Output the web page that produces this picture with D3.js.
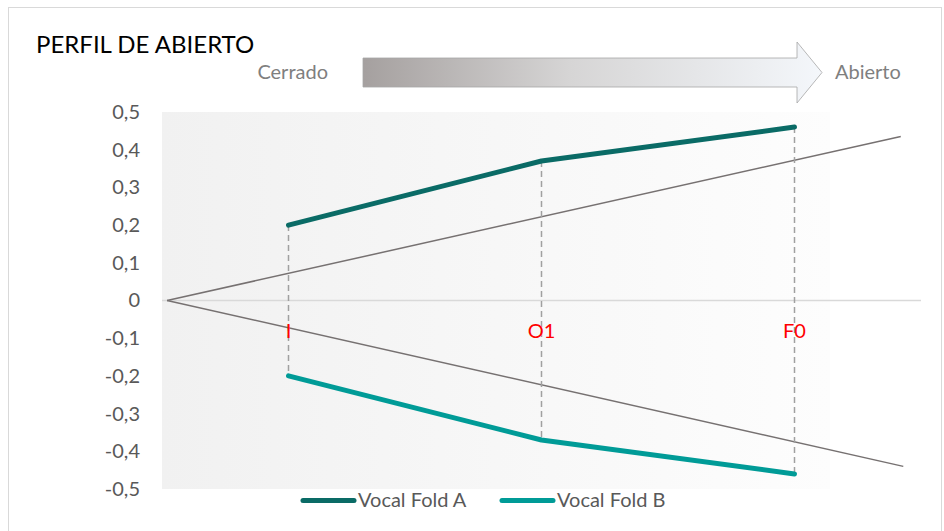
<!DOCTYPE html>
<html><head><meta charset="utf-8">
<script src="https://cdn.jsdelivr.net/npm/d3@7"></script>
<style>body{margin:0;background:#fff}svg{display:block}text{font-family:Lato,"Open Sans",sans-serif}</style>
</head><body><svg id="c" width="944" height="531"></svg>
<script>
const categories = ["I", "O1", "F0"];
const foldA = [0.2, 0.37, 0.46];
const foldB = [-0.2, -0.37, -0.46];
const yTicks = [0.5, 0.4, 0.3, 0.2, 0.1, 0, -0.1, -0.2, -0.3, -0.4, -0.5];
const refUpper = [[0.52, 0], [3.42, 0.435]];
const refLower = [[0.52, 0], [3.43, -0.44]];
const seriesNames = ["Vocal Fold A", "Vocal Fold B"];
const seriesColors = ["#0a6b66", "#009b97"];

const svg = d3.select("#c");
const x = d3.scaleLinear().domain([0.5, 3.5]).range([162, 921]);
const y = d3.scaleLinear().domain([-0.5, 0.5]).range([489, 112]);
const defs = svg.append("defs");

// outer frame
svg.append("rect").attr("x", 8.5).attr("y", 7.5).attr("width", 933).attr("height", 540)
  .attr("fill", "none").attr("stroke", "#d9d9d9").attr("stroke-width", 1);

// title
svg.append("text").attr("x", 36).attr("y", 53).attr("font-size", 24).attr("fill", "#000")
  .text("PERFIL DE ABIERTO");

// arrow
const ag = defs.append("linearGradient").attr("id", "ag").attr("x1", "0").attr("x2", "1");
ag.append("stop").attr("offset", "0").attr("stop-color", "#a5a09f");
ag.append("stop").attr("offset", "0.45").attr("stop-color", "#d6d5d5");
ag.append("stop").attr("offset", "1").attr("stop-color", "#f4f7fb");
svg.append("path")
  .attr("d", "M363,58 L797,58 L797,42 L822,72.5 L797,103 L797,87 L363,87 Z")
  .attr("fill", "url(#ag)").attr("stroke", "#a6a6a6").attr("stroke-width", 0.8);
svg.append("text").attr("x", 328).attr("y", 79).attr("text-anchor", "end")
  .attr("font-size", 20).attr("fill", "#7f7f7f").text("Cerrado");
svg.append("text").attr("x", 835).attr("y", 79)
  .attr("font-size", 20).attr("fill", "#7f7f7f").text("Abierto");

// plot background
const bg = defs.append("linearGradient").attr("id", "bg").attr("x1", "0").attr("x2", "1");
bg.append("stop").attr("offset", "0").attr("stop-color", "#f1f1f1");
bg.append("stop").attr("offset", "1").attr("stop-color", "#fdfdfd");
svg.append("rect").attr("x", x(0.5)).attr("y", y(0.5)).attr("width", 830 - x(0.5))
  .attr("height", y(-0.5) - y(0.5)).attr("fill", "url(#bg)");

// y axis labels
const yAxis = d3.axisLeft(y).tickValues(yTicks).tickSize(0).tickPadding(0)
  .tickFormat(d => d === 0 ? "0" : d3.format(".1f")(d).replace(".", ",").replace("−", "-"));
const ya = svg.append("g").attr("transform", "translate(140,0)").call(yAxis);
ya.select(".domain").remove();
ya.selectAll("text").attr("font-size", 20).attr("fill", "#595959")
  .attr("font-family", "Lato, sans-serif");

// zero line
svg.append("line").attr("x1", x(0.5)).attr("x2", x(3.5)).attr("y1", y(0)).attr("y2", y(0))
  .attr("stroke", "#d9d9d9").attr("stroke-width", 1.5);

// reference lines
const line = d3.line().x(d => x(d[0])).y(d => y(d[1]));
[refUpper, refLower].forEach(r => {
  svg.append("path").attr("d", line(r)).attr("fill", "none")
    .attr("stroke", "#767171").attr("stroke-width", 1.5);
});

// dashed droplines
categories.forEach((c, i) => {
  svg.append("line").attr("x1", x(i + 1)).attr("x2", x(i + 1))
    .attr("y1", y(foldA[i])).attr("y2", y(foldB[i]))
    .attr("stroke", "#a0a0a0").attr("stroke-width", 1.5).attr("stroke-dasharray", "6,4");
});

// category labels
categories.forEach((c, i) => {
  svg.append("text").attr("x", x(i + 1)).attr("y", 338).attr("text-anchor", "middle")
    .attr("font-size", 20).attr("fill", "#ff0000").text(c);
});

// series
const sl = d3.line().x((d, i) => x(i + 1)).y(d => y(d));
[foldA, foldB].forEach((s, k) => {
  svg.append("path").attr("d", sl(s)).attr("fill", "none").attr("stroke", seriesColors[k])
    .attr("stroke-width", 5).attr("stroke-linecap", "round").attr("stroke-linejoin", "round");
});

// legend
const legX = [303, 502];
seriesNames.forEach((n, k) => {
  svg.append("line").attr("x1", legX[k]).attr("x2", legX[k] + 51).attr("y1", 500.5).attr("y2", 500.5)
    .attr("stroke", seriesColors[k]).attr("stroke-width", 5).attr("stroke-linecap", "round");
  svg.append("text").attr("x", legX[k] + 55).attr("y", 507).attr("font-size", 20)
    .attr("fill", "#595959").text(n);
});
</script></body></html>
